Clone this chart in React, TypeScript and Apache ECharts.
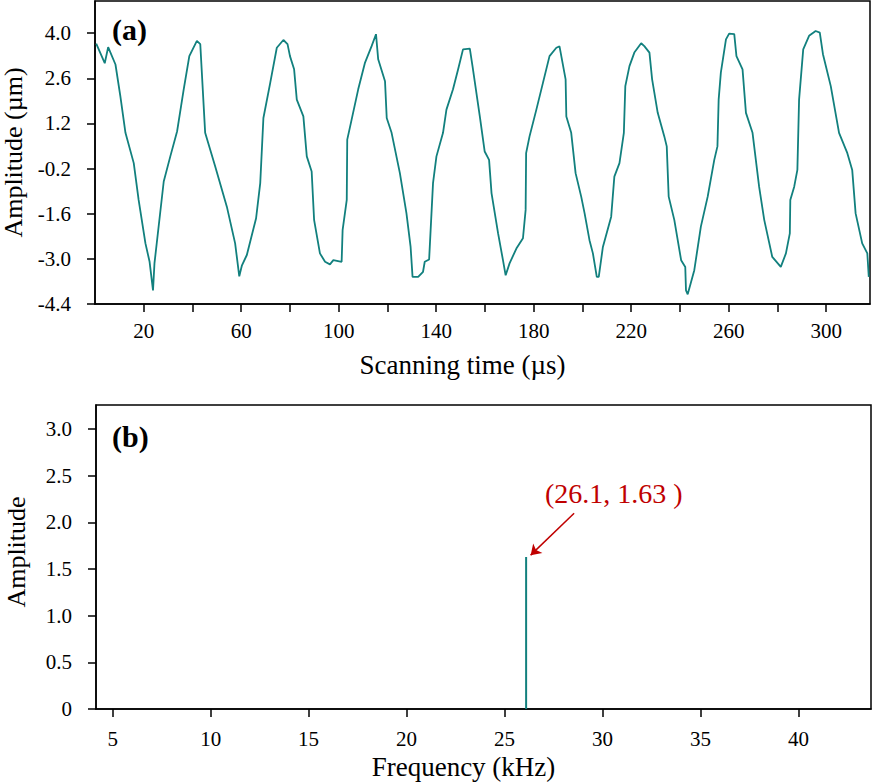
import React, { useEffect, useRef } from "react";
import * as echarts from "echarts";

// (a) time-domain signal
const scanTime = [
  0.5, 4.0, 5.4, 8.4, 10.4, 12.5, 15.9, 17.9, 20.7, 22.4, 23.8, 24.4, 28.2, 30.9, 33.7, 36.4, 38.7, 41.8, 43.2,
  45.2, 49.3, 54.1, 57.5, 59.2, 60.3, 62.3, 66.1, 67.8, 69.1, 71.9, 74.6, 77.3, 79.0, 80.0, 81.7, 82.8, 85.5,
  86.9, 88.9, 89.9, 92.3, 94.4, 96.4, 97.8, 101.2, 101.6, 103.3, 103.5, 105.3, 108.0, 110.8, 113.5, 115.3,
  116.2, 119.0, 119.7, 121.7, 125.1, 127.8, 129.5, 130.3, 132.6, 134.6, 135.3, 137.1, 138.7, 140.1, 142.8,
  144.2, 146.9, 149.0, 151.0, 153.8, 154.9, 157.9, 159.9, 161.7, 162.7, 165.4, 167.4, 168.5, 170.1, 172.9,
  175.6, 176.7, 176.9, 178.3, 181.1, 183.8, 186.5, 189.3, 190.6, 193.1, 193.4, 195.4, 197.2, 199.5, 200.9,
  202.9, 204.3, 205.9, 206.7, 208.4, 211.8, 213.1, 215.2, 217.0, 217.6, 219.3, 221.3, 224.1, 225.4, 227.5,
  228.6, 230.9, 233.6, 234.6, 235.4, 237.7, 240.5, 242.2, 242.5, 243.2, 245.9, 248.6, 251.4, 254.1, 255.4,
  255.9, 256.8, 258.9, 260.2, 262.3, 263.2, 265.7, 267.1, 269.8, 272.5, 274.6, 277.9, 281.4, 283.5, 285.1,
  285.3, 286.9, 288.2, 288.9, 290.6, 293.0, 295.7, 297.4, 298.7, 301.9, 305.3, 308.7, 310.7, 312.1, 314.8,
  316.9, 317.5,
];
const amplitudeUm = [
  3.68, 3.07, 3.57, 3.03, 2.05, 0.91, -0.03, -1.17, -2.52, -3.09, -3.98, -3.14, -0.6, 0.18, 0.96, 2.26, 3.29, 3.76, 3.66,
  0.91, -0.13, -1.38, -2.52, -3.54, -3.2, -2.88, -1.74, -0.65, 1.37, 2.46, 3.55, 3.79, 3.66, 3.29, 2.88, 1.94, 1.42,
  0.18, -0.29, -1.79, -2.83, -3.09, -3.17, -3.04, -3.09, -2.11, -1.17, 0.7, 1.32, 2.26, 3.09, 3.6, 3.97,
  3.19, 2.51, 1.37, 0.91, -0.34, -1.59, -2.63, -3.56, -3.56, -3.4, -3.09, -3.02, -0.65, 0.18, 0.91,
  1.63, 2.26, 2.88, 3.5, 3.52, 2.98, 1.42, 0.33, 0.07, -0.96, -2.21, -3.04, -3.51, -3.14, -2.68,
  -2.36, -1.48, 0.28, 0.8, 1.63, 2.46, 3.29, 3.55, 3.59, 2.57, 1.42, 0.91, -0.34, -1.07, -1.59,
  -2.42, -2.83, -3.56, -3.56, -2.63, -1.69, -0.45, -0.03, 0.91, 2.36, 2.98, 3.4, 3.69, 3.6, 3.4,
  2.57, 1.53, 0.8, 0.49, -1.07, -1.79, -3.04, -3.25, -3.98, -4.1, -3.35, -2.0, -1.07, 0.07, 0.49,
  1.94, 2.78, 3.81, 3.99, 3.97, 3.29, 2.88, 1.53, 0.91, -0.76, -1.79, -2.94, -3.25, -2.83, -2.21,
  -1.17, -0.76, -0.24, 1.94, 3.5, 3.92, 4.07, 4.02, 3.35, 2.36, 0.91, 0.28, -0.24, -1.59, -2.52,
  -2.83, -3.56,
];
const timeTicks = [20, 40, 60, 80, 100, 120, 140, 160, 180, 200, 220, 240, 260, 280, 300];
const timeLabels = [20, 60, 100, 140, 180, 220, 260, 300];
const ampTicksTop = [-4.4, -3.0, -1.6, -0.2, 1.2, 2.6, 4.0];

// (b) spectrum
const freqTicks = [5, 10, 15, 20, 25, 30, 35, 40];
const ampTicksBottom = [0, 0.5, 1.0, 1.5, 2.0, 2.5, 3.0];
const peakFreq = [26.1, 26.1];
const peakAmp = [0, 1.63];
const peakLabel = "(26.1, 1.63 )";
const arrowFrom = [28.55, 2.1];
const arrowTo = [26.33, 1.65];

const FONT = "Liberation Serif";
const TEAL = "#12807e";
const RED = "#c00000";

export default function App() {
  const ref = useRef<HTMLDivElement>(null);
  useEffect(() => {
    if (!ref.current) return;
    const chart = echarts.init(ref.current, undefined, { renderer: "svg" });
    const axisCommon = {
      axisLine: { show: true, onZero: false, lineStyle: { color: "#000", width: 1.5 } },
      axisTick: { show: true, length: 8, lineStyle: { color: "#000", width: 1.5 } },
      splitLine: { show: false },
    };
    const labelStyle = { fontFamily: FONT, fontSize: 21, color: "#000", fontWeight: "normal" };
    const titleStyleX = { fontFamily: FONT, fontSize: 27, color: "#000", padding: [0, 40, 0, 0] };
    chart.setOption({
      animation: false,
      backgroundColor: "#fff",
      textStyle: { fontFamily: FONT, fontSize: 21 },
      grid: [
        { left: 95, right: 3, top: 1, height: 303, outerBoundsMode: "none", containLabel: false, show: true, borderColor: "#000", borderWidth: 1.5, backgroundColor: "transparent" },
        { left: 96, right: 2, top: 405, height: 304, outerBoundsMode: "none", containLabel: false, show: true, borderColor: "#000", borderWidth: 1.5, backgroundColor: "transparent" },
      ],
      xAxis: [
        {
          ...axisCommon,
          type: "value",
          gridIndex: 0,
          min: 0,
          max: 318,
          name: "Scanning time (\u00b5s)",
          nameLocation: "middle",
          nameGap: 47,
          nameTextStyle: titleStyleX,
          axisTick: { ...axisCommon.axisTick, customValues: timeTicks },
          axisLabel: { ...labelStyle, margin: 16, customValues: timeLabels, formatter: (v: number) => String(v) },
        },
        {
          ...axisCommon,
          type: "value",
          gridIndex: 1,
          min: 4.15,
          max: 43.7,
          name: "Frequency (kHz)",
          nameLocation: "middle",
          nameGap: 44,
          nameTextStyle: titleStyleX,
          axisTick: { ...axisCommon.axisTick, customValues: freqTicks },
          axisLabel: { ...labelStyle, margin: 19, customValues: freqTicks, formatter: (v: number) => String(v) },
        },
      ],
      yAxis: [
        {
          ...axisCommon,
          type: "value",
          gridIndex: 0,
          min: -4.4,
          max: 5.0,
          name: "Amplitude (\u00b5m)",
          nameLocation: "middle",
          nameGap: 67,
          nameTextStyle: { fontFamily: FONT, fontSize: 26, color: "#000" },
          axisTick: { ...axisCommon.axisTick, customValues: ampTicksTop },
          axisLabel: { ...labelStyle, margin: 24, customValues: ampTicksTop, formatter: (v: number) => v.toFixed(1) },
        },
        {
          ...axisCommon,
          type: "value",
          gridIndex: 1,
          min: 0,
          max: 3.26,
          name: "Amplitude",
          nameLocation: "middle",
          nameGap: 67,
          nameTextStyle: { fontFamily: FONT, fontSize: 26, color: "#000", padding: [0, 0, 0, 10] },
          axisTick: { ...axisCommon.axisTick, customValues: ampTicksBottom },
          axisLabel: {
            ...labelStyle,
            margin: 24,
            customValues: ampTicksBottom,
            formatter: (v: number) => (v === 0 ? "0" : v.toFixed(1)),
          },
        },
      ],
      series: [
        {
          type: "line",
          xAxisIndex: 0,
          yAxisIndex: 0,
          data: scanTime.map((t, i) => [t, amplitudeUm[i]]),
          showSymbol: false,
          symbol: "none",
          lineStyle: { color: TEAL, width: 1.8 },
        },
        {
          type: "line",
          xAxisIndex: 1,
          yAxisIndex: 1,
          data: peakFreq.map((f, i) => [f, peakAmp[i]]),
          showSymbol: false,
          symbol: "none",
          lineStyle: { color: TEAL, width: 2 },
          markLine: {
            silent: true,
            symbol: ["none", "arrow"],
            symbolSize: 10,
            lineStyle: { color: RED, width: 1.5, type: "solid" },
            label: { show: false },
            data: [[{ coord: arrowFrom }, { coord: arrowTo }]],
          },
        },
      ],
      graphic: [
        { type: "text", x: 112, y: 29, style: { text: "(a)", fontFamily: FONT, fontSize: 30, fontWeight: "bold", fill: "#000", verticalAlign: "middle" } },
        { type: "text", x: 112, y: 436, style: { text: "(b)", fontFamily: FONT, fontSize: 30, fontWeight: "bold", fill: "#000", verticalAlign: "middle" } },
        { type: "text", x: 545, y: 493, style: { text: peakLabel, fontFamily: FONT, fontSize: 28, fill: RED, verticalAlign: "middle" } },
      ],
    });
    return () => chart.dispose();
  }, []);
  return <div ref={ref} style={{ position: "absolute", left: 0, top: 0, width: 873, height: 784 }} />;
}
